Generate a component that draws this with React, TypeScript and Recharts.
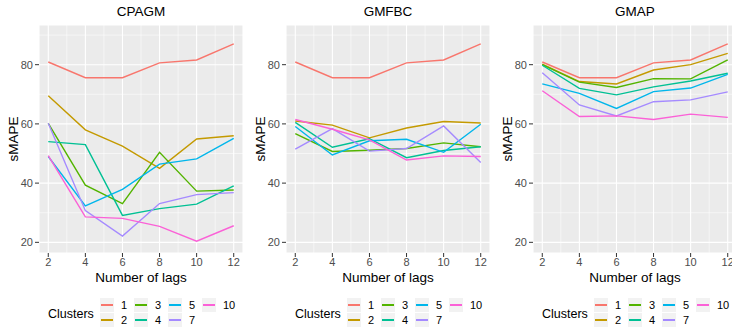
import React from 'react';
import { LineChart, Line, XAxis, YAxis, CartesianGrid, ReferenceLine } from 'recharts';

const lags = [2, 4, 6, 8, 10, 12];
const clusters = ['1', '2', '3', '4', '5', '7', '10'];
const clusterColors = ['#F8766D', '#C49A00', '#53B400', '#00C094', '#00B6EB', '#A58AFF', '#FB61D7'];

const panelTitles = ['CPAGM', 'GMFBC', 'GMAP'];

// sMAPE per cluster (rows follow `clusters`), columns follow `lags`
const cpagmValues = [
    [80.9, 75.6, 75.6, 80.6, 81.6, 87.0],
    [69.5, 58.0, 52.5, 45.0, 54.9, 56.0],
    [60.2, 39.3, 33.1, 50.4, 37.3, 37.7],
    [54.0, 53.0, 29.1, 31.4, 32.9, 39.1],
    [49.0, 32.3, 37.9, 46.4, 48.2, 55.1],
    [60.2, 30.7, 22.1, 33.1, 36.1, 36.8],
    [49.3, 28.6, 28.1, 25.4, 20.4, 25.6],
];

const gmfbcValues = [
    [80.9, 75.6, 75.6, 80.6, 81.6, 87.0],
    [61.0, 59.6, 55.3, 58.6, 60.8, 60.3],
    [56.7, 50.7, 51.1, 51.7, 53.6, 52.3],
    [60.5, 52.1, 55.0, 48.6, 51.0, 52.3],
    [59.1, 49.5, 54.3, 54.8, 50.4, 59.9],
    [51.5, 58.4, 50.8, 51.7, 59.3, 47.0],
    [61.5, 58.2, 54.6, 47.8, 49.2, 49.0],
];

const gmapValues = [
    [80.9, 75.6, 75.6, 80.6, 81.6, 87.0],
    [80.2, 74.3, 73.5, 78.2, 80.0, 83.8],
    [80.0, 74.1, 72.3, 75.3, 75.2, 81.6],
    [79.8, 72.0, 69.8, 72.5, 74.5, 77.1],
    [73.5, 70.3, 65.2, 70.9, 72.1, 76.7],
    [77.3, 66.4, 62.7, 67.5, 68.1, 70.8],
    [71.2, 62.5, 62.7, 61.5, 63.3, 62.2],
];

const yTicks = [20, 40, 60, 80];
const yMinor = [30, 50, 70, 90];
const xMinor = [3, 5, 7, 9, 11];

const FONT = '"Liberation Sans", Arial, Helvetica, sans-serif';
const PANEL_W = 247;

const buildRows = (values: number[][]) =>
    lags.map((lag, i) => {
        const row: Record<string, number> = { lag };
        clusters.forEach((c, k) => {
            row[`c${c}`] = values[k][i];
        });
        return row;
    });

const ClusterLegend: React.FC = () => {
    // ggplot fills the legend column by column, two rows
    return (
        <div style={{ position: 'absolute', left: 0, top: 0 }}>
            <div style={{ position: 'absolute', left: 48, top: 307, fontSize: 12.5, lineHeight: '14px', color: '#000', whiteSpace: 'nowrap' }}>
                Clusters
            </div>
            {clusters.map((c, k) => {
                const col = Math.floor(k / 2);
                const row = k % 2;
                const left = 100 + col * 34;
                const top = 298 + row * 15;
                return (
                    <React.Fragment key={c}>
                        <div style={{ position: 'absolute', left, top, width: 14, height: 14, background: '#F2F2F2' }}>
                            <div style={{ position: 'absolute', left: 1, top: 6, width: 12, height: 2, background: clusterColors[k] }} />
                        </div>
                        <div style={{ position: 'absolute', left: left + 21, top, fontSize: 11, lineHeight: '14px', color: '#000', whiteSpace: 'nowrap' }}>
                            {c}
                        </div>
                    </React.Fragment>
                );
            })}
        </div>
    );
};

const Panel: React.FC<{ title: string; values: number[][]; left: number }> = ({ title, values, left }) => {
    const data = buildRows(values);
    return (
        <div style={{ position: 'absolute', left, top: 0, width: PANEL_W, height: 327 }}>
            <div style={{ position: 'absolute', left: 39, top: 5, width: 204, textAlign: 'center', fontSize: 13.5, lineHeight: '14px', color: '#000' }}>
                {title}
            </div>
            <LineChart width={PANEL_W} height={290} data={data} margin={{ top: 25, right: 4, left: 0, bottom: 0 }}>
                <CartesianGrid stroke="#FFFFFF" strokeWidth={1.1} fill="#EBEBEB" />
                {yMinor.map(v => (
                    <ReferenceLine key={`y${v}`} y={v} stroke="#FFFFFF" strokeWidth={0.55} />
                ))}
                {xMinor.map(v => (
                    <ReferenceLine key={`x${v}`} x={v} stroke="#FFFFFF" strokeWidth={0.55} />
                ))}
                <XAxis
                    dataKey="lag"
                    type="number"
                    domain={[1.5, 12.5]}
                    ticks={lags}
                    height={37}
                    axisLine={false}
                    tickLine={{ stroke: '#333333' }}
                    tickSize={4}
                    tickMargin={1}
                    tick={{ fill: '#4D4D4D', fontSize: 11 }}
                    label={{ value: 'Number of lags', position: 'insideBottom', offset: 8, fill: '#000', fontSize: 13.5 }}
                />
                <YAxis
                    type="number"
                    domain={[16.4, 93.4]}
                    ticks={yTicks}
                    width={39}
                    axisLine={false}
                    tickLine={{ stroke: '#333333' }}
                    tickSize={4}
                    tickMargin={2}
                    tick={{ fill: '#4D4D4D', fontSize: 11 }}
                    label={{ value: 'sMAPE', angle: -90, position: 'insideLeft', offset: 13, fill: '#000', fontSize: 13.5, style: { textAnchor: 'middle' } }}
                />
                {clusters.map((c, k) => (
                    <Line
                        key={c}
                        type="linear"
                        dataKey={`c${c}`}
                        stroke={clusterColors[k]}
                        strokeWidth={1.4}
                        dot={false}
                        activeDot={false}
                        isAnimationActive={false}
                    />
                ))}
            </LineChart>
            <ClusterLegend />
        </div>
    );
};

export default function App() {
    const panelValues = [cpagmValues, gmfbcValues, gmapValues];
    return (
        <div style={{ position: 'absolute', left: 0, top: 0, width: 732, height: 327, overflow: 'hidden', background: '#FFFFFF', fontFamily: FONT }}>
            {panelTitles.map((t, i) => (
                <Panel key={t} title={t} values={panelValues[i]} left={i * PANEL_W} />
            ))}
        </div>
    );
}
